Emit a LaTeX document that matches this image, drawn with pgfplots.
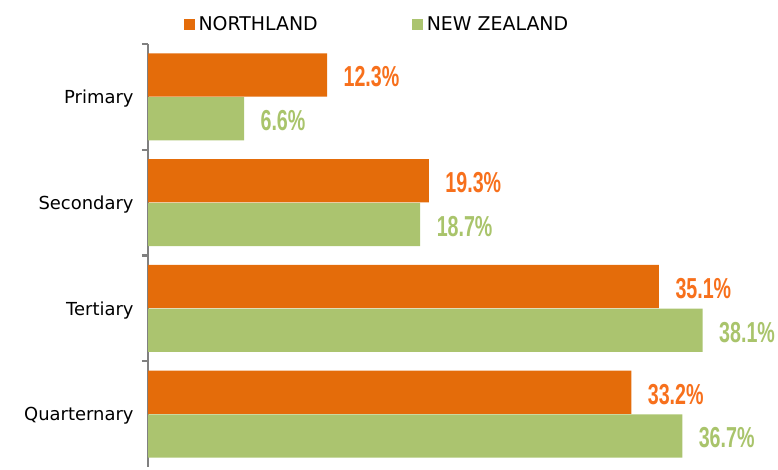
\documentclass[border=0pt]{standalone}
\usepackage{pgfplots}
\pgfplotsset{compat=1.18}
\usepackage{fontspec}
\setmainfont{DejaVu Sans}
\newfontfamily\labfont[FakeStretch=0.68]{Liberation Sans}
\definecolor{northland}{RGB}{228,108,10}
\definecolor{nz}{RGB}{171,196,111}
\definecolor{northtxt}{RGB}{247,112,28}
\definecolor{nztxt}{RGB}{169,196,107}
\definecolor{axgray}{RGB}{128,128,128}
\begin{document}
\begin{tikzpicture}
\path[use as bounding box] (0,0) rectangle (778bp,470bp);
\begin{axis}[
  at={(148bp,3bp)}, anchor=south west,
  scale only axis, width=626bp, height=423bp,
  xbar, bar width=0.41,
  xmin=0, xmax=43,
  ymin=-0.5, ymax=3.5, y dir=reverse,
  axis x line=none,
  axis y line*=left,
  y axis line style={axgray, line width=2.4bp, -},
  ytick={0,1,2,3},
  yticklabels={Primary,Secondary,Tertiary,Quarternary},
  major tick length=0pt,
  minor ytick={-0.5,0.5,1.5,2.5},
  minor tick length=6bp,
  tick align=outside,
  tick pos=left,
  minor tick style={axgray, line width=2.4bp},
  yticklabel style={font=\fontsize{18}{20}\selectfont, xshift=-11bp, yshift=-2bp, text=black},
  nodes near coords={\labfont\bfseries\fontsize{29}{30}\selectfont\pgfmathprintnumber[fixed,fixed zerofill,precision=1,assume math mode=true]{\pgfplotspointmeta}\%},
  nodes near coords style={anchor=west, xshift=13bp, yshift=-2bp},
  legend columns=2,
  legend style={at={(0.372,1)}, anchor=south, xshift=-4bp, yshift=8bp, draw=none, fill=none,
    font=\fontsize{19}{21}\selectfont,
    /tikz/every even column/.append style={column sep=92bp}},
  legend image code/.code={\fill[#1] (0bp,-5.5bp) rectangle (11bp,5.5bp);},
]
\addplot[fill=northland, draw=none, bar shift=-0.207, nodes near coords style={text=northtxt}]
  coordinates {(12.3,0) (19.3,1) (35.1,2) (33.2,3)};
\addlegendentry{\hspace{2bp}NORTHLAND}
\addplot[fill=nz, draw=none, bar shift=0.207, nodes near coords style={text=nztxt}]
  coordinates {(6.6,0) (18.7,1) (38.1,2) (36.7,3)};
\addlegendentry{\hspace{2bp}NEW ZEALAND}
\end{axis}
\end{tikzpicture}
\end{document}
